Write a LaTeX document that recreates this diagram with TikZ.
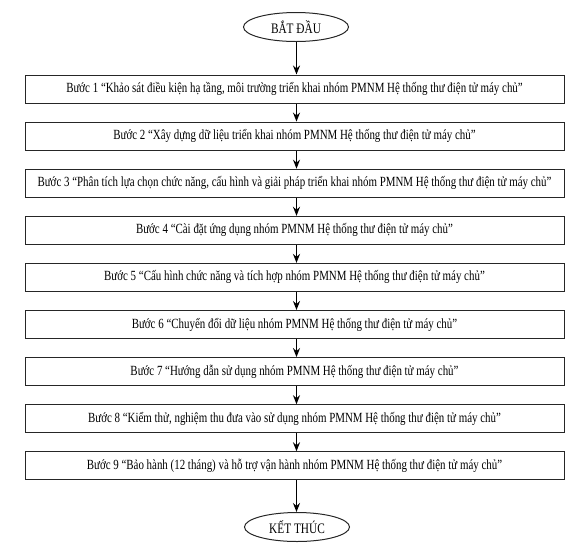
\documentclass[tikz,border=0pt]{standalone}
\usepackage{fontspec}
\setmainfont{Liberation Serif}[FakeStretch=0.78]
\usetikzlibrary{shapes.geometric,arrows.meta}
\tikzset{
  stepbox/.style={draw=black!85, line width=1pt, minimum width=539pt, minimum height=28pt, inner sep=0pt, font=\fontsize{14}{16}\selectfont},
  term/.style={draw=black!85, ellipse, line width=1pt, minimum width=105pt, minimum height=29pt, inner sep=0pt, font=\fontsize{14.5}{16}\selectfont},
  flow/.style={line width=1.7pt, -{Stealth[length=9pt,width=7pt]}}
}
\begin{document}
\begin{tikzpicture}[x=1pt,y=-1pt]
\useasboundingbox (0,0) rectangle (576,558);
\node[term] (start) at (296,27) {BẮT ĐẦU};
\node[stepbox] (s1) at (294.5,89.0) {Bước 1 “Khảo sát điều kiện hạ tầng, môi trường triển khai nhóm PMNM Hệ thống thư điện tử máy chủ”};
\node[stepbox] (s2) at (294.5,136.1) {Bước 2 “Xây dựng dữ liệu triển khai nhóm PMNM Hệ thống thư điện tử máy chủ”};
\node[stepbox] (s3) at (294.5,183.2) {Bước 3 “Phân tích lựa chọn chức năng, cấu hình và giải pháp triển khai nhóm PMNM Hệ thống thư điện tử máy chủ”};
\node[stepbox] (s4) at (294.5,230.3) {Bước 4 “Cài đặt ứng dụng nhóm PMNM Hệ thống thư điện tử máy chủ”};
\node[stepbox] (s5) at (294.5,277.4) {Bước 5 “Cấu hình chức năng và tích hợp nhóm PMNM Hệ thống thư điện tử máy chủ”};
\node[stepbox] (s6) at (294.5,324.5) {Bước 6 “Chuyển đổi dữ liệu nhóm PMNM Hệ thống thư điện tử máy chủ”};
\node[stepbox] (s7) at (294.5,371.6) {Bước 7 “Hướng dẫn sử dụng nhóm PMNM Hệ thống thư điện tử máy chủ”};
\node[stepbox] (s8) at (294.5,418.7) {Bước 8 “Kiểm thử, nghiệm thu đưa vào sử dụng nhóm PMNM Hệ thống thư điện tử máy chủ”};
\node[stepbox] (s9) at (294.5,465.8) {Bước 9 “Bảo hành (12 tháng) và hỗ trợ vận hành nhóm PMNM Hệ thống thư điện tử máy chủ”};
\node[term] (end) at (297,527) {KẾT THÚC};
\foreach \a/\b in {start/s1,s1/s2,s2/s3,s3/s4,s4/s5,s5/s6,s6/s7,s7/s8,s8/s9,s9/end}{
  \draw[flow] (\a.south -| 296.5,0) -- (\b.north -| 296.5,0);
}
\end{tikzpicture}
\end{document}
